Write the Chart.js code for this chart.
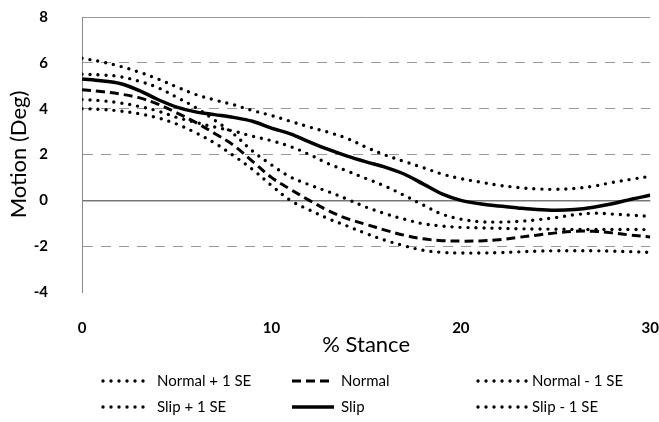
<!DOCTYPE html>
<html>
<head>
<meta charset="utf-8">
<script src="https://cdn.jsdelivr.net/npm/chart.js@4/dist/chart.umd.min.js"></script>
<style>
  body { margin: 0; background: #fff; }
  #wrap { width: 659px; height: 422px; position: relative; }
</style>
</head>
<body>
<div id="wrap"><canvas id="chart"></canvas></div>
<script>
// % stance (x) and motion in degrees for each curve
const stance = [0, 1, 2, 3, 4, 5, 6, 7, 8, 9, 10, 11, 12, 13, 14, 15, 16, 17, 18, 19, 20, 21, 22, 23, 24, 25, 26, 27, 28, 29, 30];

const normalPlus = [5.5, 5.47, 5.4, 5.2, 4.92, 4.5, 4.05, 3.5, 2.9, 2.15, 1.55, 1.02, 0.68, 0.38, 0.05, -0.3, -0.58, -0.82, -1.02, -1.12, -1.18, -1.2, -1.22, -1.24, -1.25, -1.26, -1.27, -1.27, -1.27, -1.27, -1.28];
const normal = [4.83, 4.75, 4.64, 4.48, 4.2, 3.82, 3.4, 2.92, 2.4, 1.7, 1.0, 0.48, 0.0, -0.45, -0.8, -1.05, -1.3, -1.52, -1.68, -1.76, -1.78, -1.77, -1.72, -1.62, -1.52, -1.42, -1.35, -1.35, -1.42, -1.52, -1.6];
const normalMinus = [4.0, 3.97, 3.9, 3.78, 3.6, 3.33, 2.95, 2.5, 1.95, 1.35, 0.65, 0.0, -0.42, -0.8, -1.12, -1.45, -1.74, -1.98, -2.18, -2.27, -2.3, -2.3, -2.28, -2.25, -2.22, -2.2, -2.2, -2.2, -2.22, -2.24, -2.27];
const slipPlus = [6.2, 6.05, 5.85, 5.6, 5.3, 4.95, 4.62, 4.38, 4.17, 3.92, 3.7, 3.45, 3.2, 2.97, 2.7, 2.32, 1.98, 1.7, 1.43, 1.15, 0.95, 0.8, 0.66, 0.56, 0.5, 0.48, 0.52, 0.62, 0.78, 0.92, 1.05];
const slip = [5.3, 5.22, 5.1, 4.8, 4.4, 4.07, 3.86, 3.74, 3.62, 3.45, 3.15, 2.9, 2.55, 2.22, 1.93, 1.68, 1.45, 1.15, 0.72, 0.28, 0.0, -0.15, -0.25, -0.33, -0.4, -0.43, -0.4, -0.3, -0.15, 0.05, 0.22];
const slipMinus = [4.4, 4.35, 4.25, 4.1, 3.9, 3.62, 3.4, 3.2, 3.02, 2.8, 2.6, 2.35, 2.0, 1.6, 1.28, 0.95, 0.62, 0.22, -0.2, -0.6, -0.82, -0.93, -0.95, -0.92, -0.85, -0.75, -0.63, -0.56, -0.6, -0.65, -0.7];

const labels = ['Normal + 1 SE', 'Normal', 'Normal - 1 SE', 'Slip + 1 SE', 'Slip', 'Slip - 1 SE'];
const xTicks = [0, 10, 20, 30];
const yMin = -4, yMax = 8, yStep = 2;

const pts = arr => arr.map((v, i) => ({ x: stance[i], y: v }));

const dotted = { borderDash: [0, 8], borderWidth: 3.4, borderCapStyle: 'round' };

function line(label, values, style) {
    return Object.assign({
        label: label,
        data: pts(values),
        borderColor: '#000',
        backgroundColor: '#000',
        pointRadius: 0,
        tension: 0.35,
        fill: false
    }, style);
}

// draw the legend as a 3 x 2 grid under the plot
const gridLegend = {
    id: 'gridLegend',
    afterDraw(chart) {
        const ctx = chart.ctx;
        const cols = [[103, 146, 157], [292, 334, 341], [478, 527, 532]];
        const rows = [381, 407];
        ctx.save();
        chart.data.datasets.forEach((ds, i) => {
            const c = cols[i % 3], y = rows[Math.floor(i / 3)];
            ctx.beginPath();
            ctx.strokeStyle = ds.borderColor;
            ctx.lineWidth = ds.borderWidth;
            ctx.lineCap = ds.borderCapStyle || 'butt';
            ctx.setLineDash(ds.borderDash || []);
            ctx.moveTo(c[0], y);
            ctx.lineTo(c[1], y);
            ctx.stroke();
            ctx.setLineDash([]);
            ctx.fillStyle = '#000';
            ctx.font = '15px Lato';
            ctx.textBaseline = 'middle';
            ctx.fillText(ds.label, c[2], y);
        });
        ctx.restore();
    }
};

new Chart(document.getElementById('chart'), {
    type: 'line',
    data: {
        datasets: [
            line(labels[0], normalPlus, dotted),
            line(labels[1], normal, { borderDash: [9, 5], borderWidth: 3 }),
            line(labels[2], normalMinus, dotted),
            line(labels[3], slipPlus, dotted),
            line(labels[4], slip, { borderWidth: 3.5 }),
            line(labels[5], slipMinus, dotted)
        ]
    },
    options: {
        responsive: true,
        maintainAspectRatio: false,
        animation: false,
        layout: { padding: { top: 17, right: 7, bottom: 62, left: 0 } },
        plugins: {
            legend: { display: false },
            tooltip: { enabled: false }
        },
        scales: {
            x: {
                type: 'linear',
                min: 0,
                max: 30,
                afterBuildTicks: s => { s.ticks = xTicks.map(v => ({ value: v })); },
                afterFit: s => { s.height = 68; },
                grid: { drawOnChartArea: false, drawTicks: true, tickLength: 27, tickColor: 'rgba(0,0,0,0)' },
                border: { display: false },
                ticks: { color: '#000', font: { family: 'Lato', size: 15, weight: 'bold' }, padding: 0, maxRotation: 0 },
                title: {
                    display: true,
                    text: '% Stance',
                    color: '#000',
                    font: { family: 'Lato', size: 22 },
                    padding: { top: 0, bottom: 2 }
                }
            },
            y: {
                min: yMin,
                max: yMax,
                afterFit: s => { s.width = 82; },
                ticks: { stepSize: yStep, color: '#000', font: { family: 'Lato', size: 15, weight: 'bold' }, padding: 0 },
                grid: {
                    drawTicks: true,
                    tickLength: 34,
                    tickColor: 'rgba(0,0,0,0)',
                    color: c => c.tick.value === yMin ? 'rgba(0,0,0,0)' : (c.tick.value === 0 ? '#777' : '#999'),
                    lineWidth: c => c.tick.value === 0 ? 1.5 : 1
                },
                border: {
                    display: true,
                    color: '#888',
                    dash: c => (c.tick && c.tick.value !== 0 && c.tick.value !== yMax) ? [10, 8] : []
                },
                title: {
                    display: true,
                    text: 'Motion (Deg)',
                    color: '#000',
                    font: { family: 'Lato', size: 22 },
                    padding: { top: 6, bottom: 0 }
                }
            }
        }
    },
    plugins: [gridLegend]
});
</script>
</body>
</html>
